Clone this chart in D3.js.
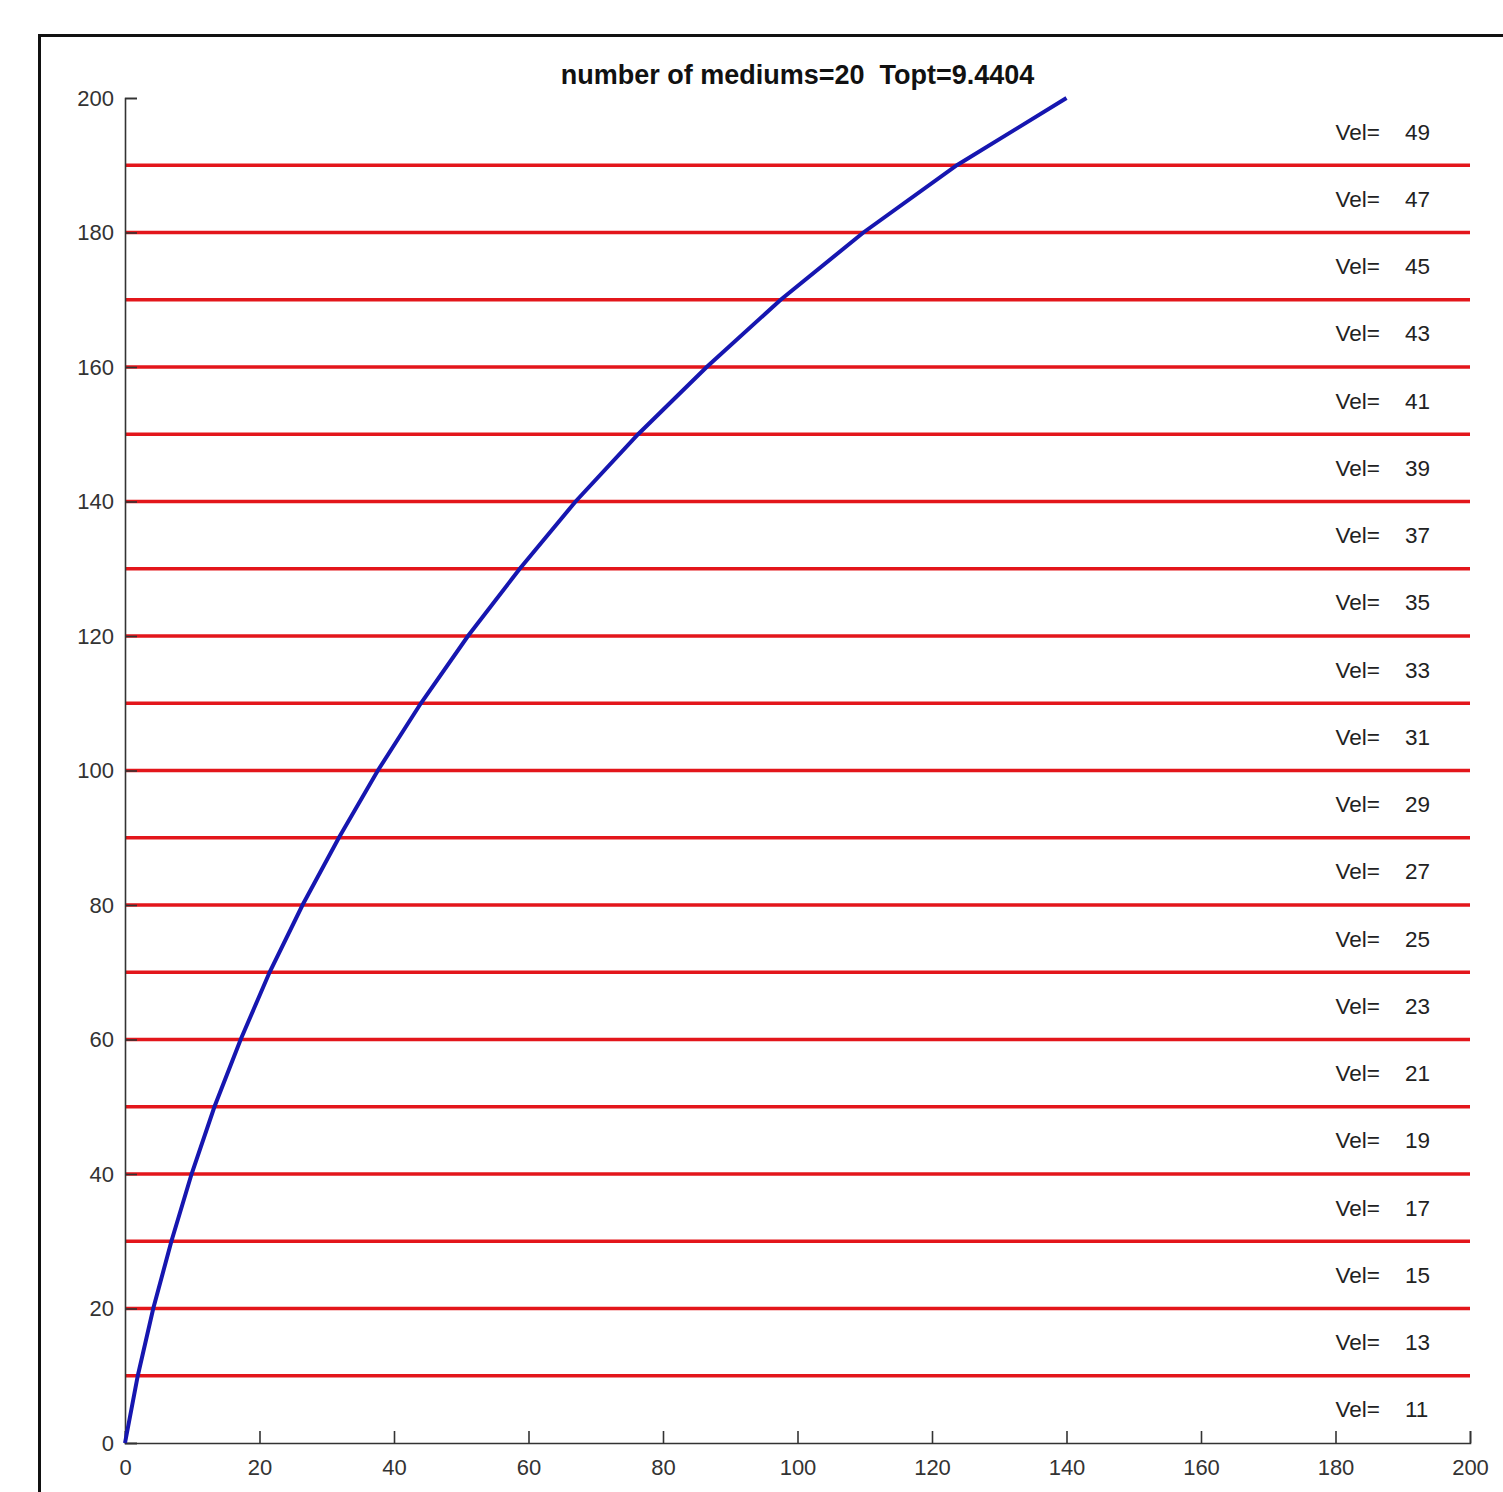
<!DOCTYPE html>
<html>
<head>
<meta charset="utf-8">
<script src="https://cdn.jsdelivr.net/npm/d3@7"></script>
<style>
  body { margin: 0; background: #fff; }
  svg text { font-family: "Liberation Sans", Arial, sans-serif; }
</style>
</head>
<body>
<div id="chart"></div>
<script>
// Layer boundaries (depth) and the velocity of each layer, bottom to top.
const boundaries = [10, 20, 30, 40, 50, 60, 70, 80, 90, 100, 110, 120, 130, 140, 150, 160, 170, 180, 190];
const layerMids = [5, 15, 25, 35, 45, 55, 65, 75, 85, 95, 105, 115, 125, 135, 145, 155, 165, 175, 185, 195];
const velocities = [11, 13, 15, 17, 19, 21, 23, 25, 27, 29, 31, 33, 35, 37, 39, 41, 43, 45, 47, 49];

// Ray path at each boundary crossing.
const rayY = [0, 10, 20, 30, 40, 50, 60, 70, 80, 90, 100, 110, 120, 130, 140, 150, 160, 170, 180, 190, 200];
const rayX = [0, 1.9, 4.2, 6.9, 9.9, 13.3, 17.2, 21.5, 26.4, 31.8, 37.6, 44.0, 51.0, 58.7, 67.0, 76.3, 86.5, 97.5, 109.8, 123.7, 140.0];

const xTicks = [0, 20, 40, 60, 80, 100, 120, 140, 160, 180, 200];
const yTicks = [0, 20, 40, 60, 80, 100, 120, 140, 160, 180, 200];
const title = "number of mediums=20  Topt=9.4404";

const W = 1503, H = 1492;
const margin = { top: 98, left: 125, right: 33, bottom: 49 };

const svg = d3.select("#chart").append("svg")
    .attr("width", W)
    .attr("height", H);

// Figure frame (runs off the right and bottom edges).
svg.append("rect")
    .attr("x", 39.5).attr("y", 35.5)
    .attr("width", W).attr("height", H)
    .style("fill", "none")
    .style("stroke", "#111")
    .style("stroke-width", 3);

const x = d3.scaleLinear().domain([0, 200]).range([margin.left, W - margin.right]);
const y = d3.scaleLinear().domain([0, 200]).range([H - margin.bottom, margin.top]);

// Red layer boundaries.
svg.append("g").selectAll("line")
    .data(boundaries)
    .join("line")
    .attr("x1", x(0)).attr("x2", x(200))
    .attr("y1", d => y(d)).attr("y2", d => y(d))
    .style("stroke", "#e3161b")
    .style("stroke-width", 3.5);

// Axes, MATLAB style: ticks pointing inward, box off.
const xAxis = d3.axisBottom(x).tickValues(xTicks).tickSizeInner(-12).tickSizeOuter(-12);
const yAxis = d3.axisLeft(y).tickValues(yTicks).tickSizeInner(-12).tickSizeOuter(-12);

const gx = svg.append("g")
    .attr("transform", "translate(0," + y(0) + ")")
    .call(xAxis);
const gy = svg.append("g")
    .attr("transform", "translate(" + x(0) + ",0)")
    .call(yAxis);

[gx, gy].forEach(g => {
    g.selectAll("path, line").style("stroke", "#333").style("stroke-width", 1.6);
    g.selectAll("text")
        .style("font-size", "22px")
        .style("fill", "#333")
        .style("font-family", '"Liberation Sans", Arial, sans-serif');
});
gy.selectAll("text").attr("x", -11);
gx.selectAll("text").attr("y", 16);

// Velocity labels for each layer.
svg.append("g").selectAll("text")
    .data(velocities)
    .join("text")
    .attr("x", x(180))
    .attr("y", (d, i) => y(layerMids[i]))
    .attr("dy", "0.35em")
    .style("white-space", "pre")
    .style("font-size", "22.5px")
    .style("fill", "#222")
    .text(d => "Vel=    " + d);

// Ray path.
const line = d3.line()
    .x(d => x(d[0]))
    .y(d => y(d[1]));

svg.append("path")
    .attr("d", line(rayX.map((v, i) => [v, rayY[i]])))
    .style("fill", "none")
    .style("stroke", "#1616b0")
    .style("stroke-width", 4);

// Title.
svg.append("text")
    .attr("x", (x(0) + x(200)) / 2)
    .attr("y", 84)
    .attr("text-anchor", "middle")
    .style("white-space", "pre")
    .style("font-size", "27px")
    .style("font-weight", "bold")
    .style("fill", "#111")
    .text(title);
</script>
</body>
</html>
